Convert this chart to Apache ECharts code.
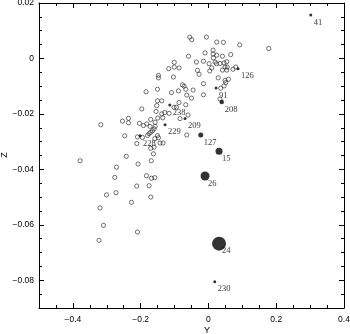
<!DOCTYPE html>
<html><head><meta charset="utf-8">
<script src="https://cdn.jsdelivr.net/npm/echarts@6/dist/echarts.min.js"></script>
<style>html,body{margin:0;padding:0;background:#fff}#c{width:350px;height:334px}</style>
</head><body><div id="c"></div>
<script>
// open-circle stars: Y and Z coordinates
const openY = [-0.0552,-0.0493,-0.0059,0.0245,0.0442,0.0923,0.1779,-0.0100,0.0136,0.0136,0.0147,-0.0590,0.0245,0.0413,0.0658,-0.0354,-0.0147,0.0018,0.0195,0.0236,0.0342,0.0460,0.0540,0.0097,0.0490,0.0555,0.0413,0.0540,0.0726,0.0805,-0.0867,-0.0324,-0.0277,0.0038,0.0289,0.0490,0.0590,0.0510,0.0460,0.0363,-0.0147,-0.0767,-0.0720,-0.0670,-0.0454,-0.0885,-0.0147,-0.0501,0.0342,-0.0867,-0.0670,-0.0944,-0.0602,-0.0838,-0.0640,-0.1009,-0.1009,-0.1171,-0.1032,-0.1475,-0.1475,-0.1504,-0.1091,-0.1841,-0.1504,-0.1378,-0.1525,-0.1015,-0.1968,-0.1546,-0.1378,-0.1289,-0.1496,-0.1348,-0.2537,-0.2360,-0.2360,-0.3177,-0.2035,-0.1917,-0.1820,-0.1702,-0.1575,-0.1723,-0.1575,-0.2469,-0.2094,-0.1947,-0.1799,-0.1752,-0.1702,-0.1652,-0.1605,-0.1504,-0.1475,-0.1428,-0.1339,-0.2115,-0.1584,-0.1702,-0.1605,-0.1622,-0.2425,-0.2077,-0.1687,-0.2714,-0.3788,-0.2764,-0.1829,-0.1681,-0.1584,-0.2115,-0.1752,-0.2726,-0.3009,-0.1702,-0.2271,-0.3198,-0.3097,-0.2094,-0.3227,-0.1162,-0.0640];
const openZ = [0.0077,0.0068,0.0077,0.0059,0.0058,0.0049,0.0036,0.0020,0.0030,0.0016,0.0002,0.0008,0.0012,0.0008,0.0014,-0.0013,-0.0010,-0.0019,-0.0013,-0.0019,-0.0018,-0.0016,-0.0012,-0.0034,-0.0031,-0.0031,-0.0042,-0.0042,-0.0039,-0.0031,-0.0034,-0.0043,-0.0057,-0.0045,-0.0070,-0.0079,-0.0075,-0.0087,-0.0099,-0.0107,-0.0091,-0.0095,-0.0100,-0.0111,-0.0114,-0.0117,-0.0131,-0.0143,-0.0146,-0.0159,-0.0167,-0.0176,-0.0204,-0.0217,-0.0276,-0.0014,-0.0031,-0.0037,-0.0067,-0.0061,-0.0070,-0.0111,-0.0123,-0.0120,-0.0153,-0.0153,-0.0170,-0.0176,-0.0182,-0.0191,-0.0200,-0.0195,-0.0215,-0.0214,-0.0226,-0.0216,-0.0232,-0.0239,-0.0234,-0.0242,-0.0236,-0.0220,-0.0230,-0.0245,-0.0245,-0.0279,-0.0283,-0.0285,-0.0278,-0.0271,-0.0266,-0.0261,-0.0254,-0.0278,-0.0286,-0.0305,-0.0305,-0.0307,-0.0289,-0.0324,-0.0320,-0.0344,-0.0353,-0.0381,-0.0369,-0.0392,-0.0369,-0.0429,-0.0423,-0.0432,-0.0430,-0.0460,-0.0459,-0.0484,-0.0492,-0.0500,-0.0519,-0.0539,-0.0602,-0.0626,-0.0656,-0.0198,-0.0132];
// labelled filled stars
const filledNames = ['41','126','91','208','209','127','15','26','24','230','229','228','238'];
const filledY = [0.3018,0.0873,0.0224,0.0392,-0.0690,-0.0227,0.0313,-0.0100,0.0313,0.0186,-0.1280,-0.2018,-0.1142];
const filledZ = [0.0157,-0.0037,-0.0107,-0.0157,-0.0217,-0.0276,-0.0335,-0.0424,-0.0668,-0.0805,-0.0239,-0.0279,-0.0168];
const filledWeight = [3,3,3,4.5,3,5,7,9,14,3,3,3,3];
// tick labels
const xTicks = [-0.4,-0.2,0,0.2,0.4];
const yTicks = [0.02,0,-0.02,-0.04,-0.06,-0.08];
const xTitle = 'Y', yTitle = 'Z';

const fmt = v => { if (Math.abs(v) < 1e-9) return '0'; const s = String(+Math.abs(v).toFixed(4)); return (v < 0 ? '\u2212' : '') + s; };
const near = (v, arr) => arr.some(t => Math.abs(t - v) < 1e-7);
const lineStyle = {color:'#000', width:1};
const labelFont = {color:'#000', fontFamily:'Liberation Sans', fontSize:8.5};

function xAx(pos, major, withLabel) {
  const a = {type:'value', min:-0.5, max:0.4, interval:0.05, position:pos, splitLine:{show:false},
    axisLine:{show:!major, onZero:false, lineStyle}, 
    axisTick:{show:true, inside:true, length: major?5:3, lineStyle},
    axisLabel:{show:false}};
  if (major) {
    a.axisTick.customValues = xTicks;
    if (withLabel) {
      a.axisLabel = Object.assign({show:true, customValues:xTicks, margin:7, formatter: v => near(v,xTicks)?fmt(v):''}, labelFont);
    }
  }
  return a;
}
function yAx(pos, major, withLabel) {
  const a = {type:'value', min:-0.09, max:0.02, interval:0.005, position:pos, splitLine:{show:false},
    axisLine:{show:!major, onZero:false, lineStyle},
    axisTick:{show:true, inside:true, length: major?5:3, lineStyle},
    axisLabel:{show:false}};
  if (major) {
    a.axisTick.customValues = yTicks;
    if (withLabel) {
      a.axisLabel = Object.assign({show:true, customValues:yTicks, margin:5, formatter: v => near(v,yTicks)?fmt(v):''}, labelFont);
    }
  }
  return a;
}

const chart = echarts.init(document.getElementById('c'), null, {renderer:'canvas'});
chart.setOption({
  animation:false,
  backgroundColor:'#fff',
  grid:{left:39, top:3, width:305, height:305, containLabel:false, outerBoundsMode:'none'},
  xAxis:[xAx('bottom',false), xAx('bottom',true,true), xAx('top',false), xAx('top',true)],
  yAxis:[yAx('left',false), yAx('left',true,true), yAx('right',false), yAx('right',true)],
  graphic:[
    {type:'text', x:207, y:330.5, style:{text:xTitle, align:'center', verticalAlign:'middle', font:'9px "Liberation Sans"', fill:'#000'}},
    {type:'text', x:4.5, y:155, rotation:Math.PI/2, style:{text:yTitle, align:'center', verticalAlign:'middle', font:'9px "Liberation Sans"', fill:'#000'}}
  ],
  series:[
    {type:'scatter', xAxisIndex:0, yAxisIndex:0, symbol:'circle', symbolSize:4.2,
     itemStyle:{color:'rgba(255,255,255,0)', borderColor:'#222', borderWidth:0.8},
     data: openY.map((y,i)=>[y, openZ[i]])},
    {type:'scatter', xAxisIndex:0, yAxisIndex:0, symbol:'circle',
     symbolSize:(v,p)=>filledWeight[p.dataIndex],
     itemStyle:{color:'#000'},
     label:{show:true, position:'inside', align:'left', verticalAlign:'middle', offset:[3,7.5],
       formatter:p=>filledNames[p.dataIndex], color:'#000', fontFamily:'Liberation Serif', fontSize:8.5},
     data: filledY.map((y,i)=>[y, filledZ[i]])}
  ]
});
</script></body></html>
